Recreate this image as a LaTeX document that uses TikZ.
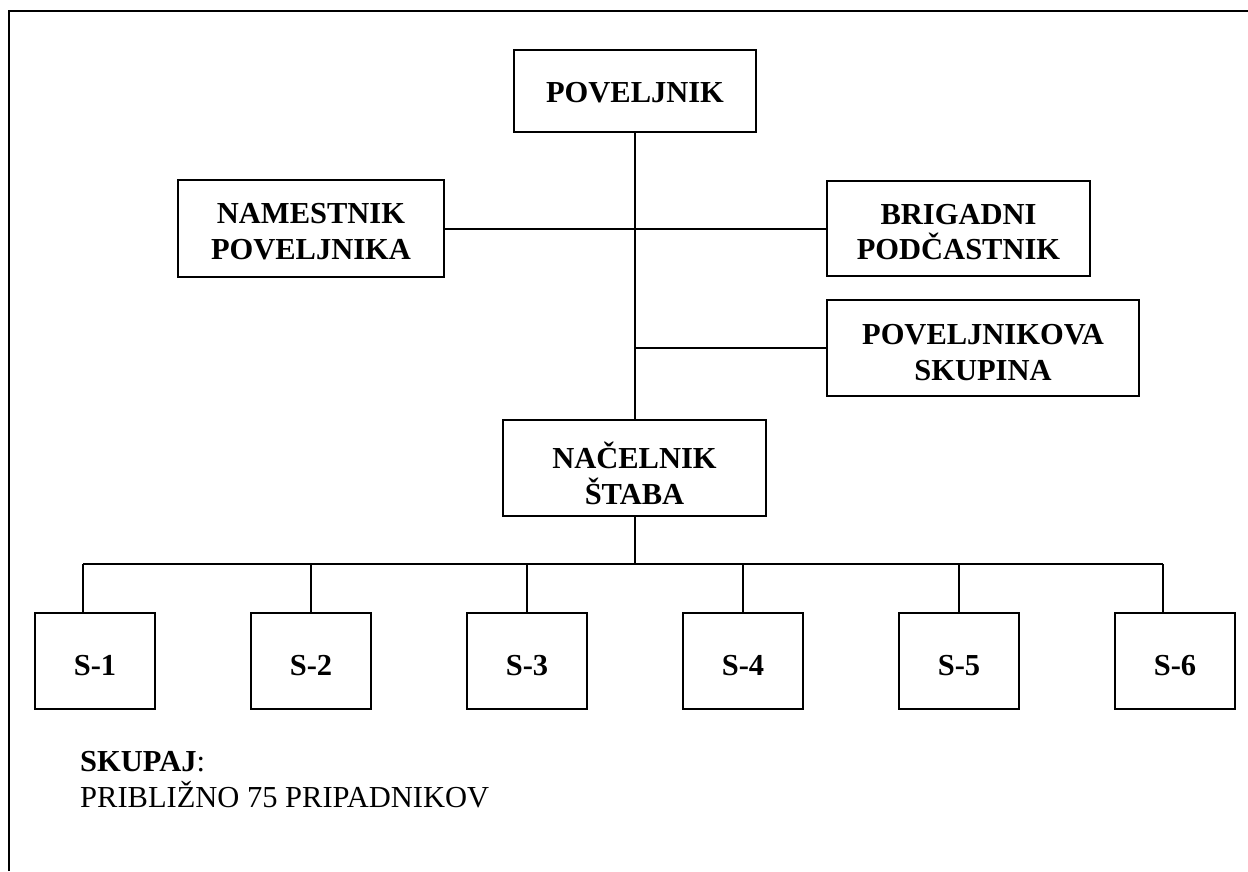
\documentclass[tikz,border=0pt]{standalone}
\usepackage{fontspec}
\setmainfont{Liberation Serif}
\tikzset{
  orgbox/.style={draw, line width=2.2pt, inner sep=0pt},
  boxtext/.style={align=center, inner sep=0pt,
    font=\fontsize{30.5}{35.5}\selectfont\bfseries},
  link/.style={line width=2pt},
  plain/.style={inner sep=0pt, anchor=base west, font=\fontsize{30.5}{35}\selectfont}
}
\begin{document}
\begin{tikzpicture}[x=1pt,y=-1pt]
\useasboundingbox (0,0) rectangle (1248,871);
\draw[line width=2.5pt] (9,871) -- (9,11) -- (1248,11);
% boxes
\node[orgbox, minimum width=242pt, minimum height=82pt] (pov) at (635,91) {};
\node[orgbox, minimum width=266pt, minimum height=97pt] (nam) at (311,228.5) {};
\node[orgbox, minimum width=263pt, minimum height=95pt] (brig) at (958.5,228.5) {};
\node[orgbox, minimum width=312pt, minimum height=96pt] (skup) at (983,348) {};
\node[orgbox, minimum width=263pt, minimum height=96pt] (nac) at (634.5,468) {};
\node[boxtext] (povt) at ([yshift=-2pt]pov.center) {POVELJNIK};
\node[boxtext] (namt) at ([yshift=-3pt]nam.center) {NAMESTNIK\\POVELJNIKA};
\node[boxtext] (brigt) at ([yshift=-3.5pt]brig.center) {BRIGADNI\\PODČASTNIK};
\node[boxtext] (skupt) at ([yshift=-4.5pt]skup.center) {POVELJNIKOVA\\SKUPINA};
\node[boxtext] (nact) at ([yshift=-5.5pt]nac.center) {NAČELNIK\\ŠTABA};
\foreach \i/\x in {1/95,2/311,3/527,4/743,5/959,6/1175}{
  \node[orgbox, minimum width=120pt, minimum height=96pt] (s\i) at (\x,661) {};
  \node[boxtext] (s\i t) at ([yshift=-5pt]s\i.center) {S-\i};
}
% connectors
\draw[link] (pov.south) -- (pov.south |- nac.north);
\draw[link] (nam.east) -- (brig.west);
\draw[link] (skup.west) -- (skup.west -| pov.south);
\coordinate (barL) at (83,564);
\coordinate (barR) at (1163,564);
\draw[link] (barL) -- (barR);
\draw[link] (nac.south) -- (nac.south |- barL);
\draw[link] (barL) -- (barL |- s1.north);
\foreach \i in {2,3,4,5}{
  \draw[link] (s\i.north |- barL) -- (s\i.north);
}
\draw[link] (barR) -- (barR |- s6.north);
% summary text
\node[plain] (sum) at (80,771) {\textbf{SKUPAJ}:};
\node[plain] (cnt) at (80,807) {PRIBLIŽNO 75 PRIPADNIKOV};
\end{tikzpicture}
\end{document}
